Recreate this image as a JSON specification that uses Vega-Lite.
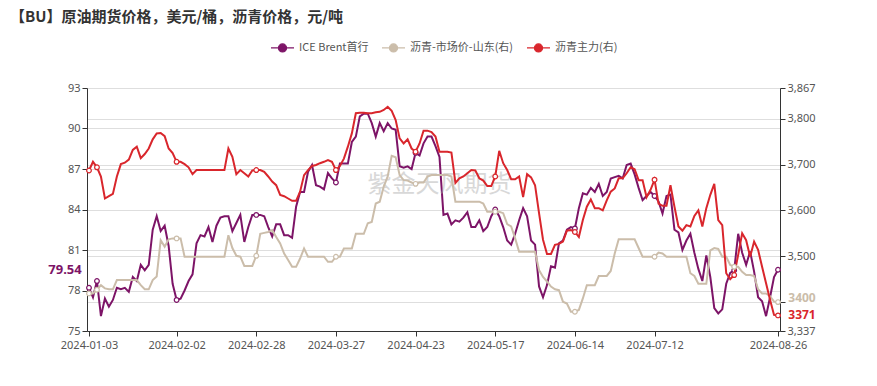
{
"$schema": "https://vega.github.io/schema/vega-lite/v6.json",
"width": 693, "height": 243,
"autosize": {"type": "none"},
"padding": {"left": 87, "top": 88, "right": 97, "bottom": 55},
"background": "white",
"config": {
  "view": {"stroke": null},
  "font": "Noto Sans CJK SC",
  "axis": {"labelColor": "#555", "labelFontSize": 11, "labelFont": "Noto Sans", "domainColor": "#333", "tickColor": "#333", "gridColor": "#dedede", "tickSize": 5, "title": null}
},
"title": {"text": "【BU】原油期货价格，美元/桶，沥青价格，元/吨", "anchor": "start", "frame": "group", "dx": -77, "offset": 10, "fontSize": 15, "fontWeight": "bold", "color": "#333", "font": "Noto Sans CJK SC"},
"data": {"values": [
{"d":"2024-01-03","brent":78.2,"spot":3419,"main":3687},
{"d":"2024-01-04","brent":77.5,"spot":3419,"main":3706},
{"d":"2024-01-05","brent":78.7,"spot":3427,"main":3694},
{"d":"2024-01-08","brent":76.1,"spot":3437,"main":3674},
{"d":"2024-01-09","brent":77.4,"spot":3430,"main":3626},
{"d":"2024-01-10","brent":76.8,"spot":3428,"main":3631},
{"d":"2024-01-11","brent":77.3,"spot":3428,"main":3636},
{"d":"2024-01-12","brent":78.2,"spot":3448,"main":3674},
{"d":"2024-01-15","brent":78.1,"spot":3448,"main":3701},
{"d":"2024-01-16","brent":78.2,"spot":3448,"main":3704},
{"d":"2024-01-17","brent":77.9,"spot":3448,"main":3711},
{"d":"2024-01-18","brent":79.0,"spot":3448,"main":3732},
{"d":"2024-01-19","brent":78.7,"spot":3448,"main":3739},
{"d":"2024-01-22","brent":79.9,"spot":3437,"main":3714},
{"d":"2024-01-23","brent":79.5,"spot":3428,"main":3723},
{"d":"2024-01-24","brent":79.9,"spot":3428,"main":3735},
{"d":"2024-01-25","brent":82.5,"spot":3448,"main":3755},
{"d":"2024-01-26","brent":83.5,"spot":3456,"main":3768},
{"d":"2024-01-29","brent":82.4,"spot":3535,"main":3769},
{"d":"2024-01-30","brent":82.8,"spot":3521,"main":3762},
{"d":"2024-01-31","brent":81.3,"spot":3537,"main":3735},
{"d":"2024-02-01","brent":78.5,"spot":3539,"main":3725},
{"d":"2024-02-02","brent":77.3,"spot":3539,"main":3706},
{"d":"2024-02-04","brent":77.4,"spot":3539,"main":3706},
{"d":"2024-02-05","brent":78.0,"spot":3499,"main":3701},
{"d":"2024-02-06","brent":78.7,"spot":3499,"main":3694},
{"d":"2024-02-07","brent":79.2,"spot":3499,"main":3679},
{"d":"2024-02-08","brent":81.5,"spot":3499,"main":3688},
{"d":"2024-02-09","brent":82.1,"spot":3499,"main":3688},
{"d":"2024-02-12","brent":82.0,"spot":3499,"main":3688},
{"d":"2024-02-13","brent":82.7,"spot":3499,"main":3688},
{"d":"2024-02-14","brent":81.6,"spot":3499,"main":3688},
{"d":"2024-02-15","brent":82.8,"spot":3499,"main":3688},
{"d":"2024-02-16","brent":83.4,"spot":3499,"main":3688},
{"d":"2024-02-18","brent":83.5,"spot":3499,"main":3688},
{"d":"2024-02-19","brent":83.5,"spot":3546,"main":3735},
{"d":"2024-02-20","brent":82.4,"spot":3518,"main":3717},
{"d":"2024-02-21","brent":83.0,"spot":3501,"main":3679},
{"d":"2024-02-22","brent":83.6,"spot":3499,"main":3688},
{"d":"2024-02-23","brent":81.6,"spot":3479,"main":3681},
{"d":"2024-02-26","brent":82.7,"spot":3479,"main":3674},
{"d":"2024-02-27","brent":83.6,"spot":3479,"main":3687},
{"d":"2024-02-28","brent":83.6,"spot":3501,"main":3688},
{"d":"2024-02-29","brent":83.6,"spot":3549,"main":3688},
{"d":"2024-03-01","brent":83.5,"spot":3551,"main":3684},
{"d":"2024-03-04","brent":82.7,"spot":3553,"main":3674},
{"d":"2024-03-05","brent":82.0,"spot":3557,"main":3663},
{"d":"2024-03-06","brent":82.9,"spot":3542,"main":3655},
{"d":"2024-03-07","brent":82.9,"spot":3528,"main":3634},
{"d":"2024-03-08","brent":82.1,"spot":3506,"main":3631},
{"d":"2024-03-11","brent":82.1,"spot":3492,"main":3626},
{"d":"2024-03-12","brent":81.9,"spot":3477,"main":3621},
{"d":"2024-03-13","brent":84.2,"spot":3477,"main":3621},
{"d":"2024-03-14","brent":85.3,"spot":3495,"main":3641},
{"d":"2024-03-15","brent":85.3,"spot":3517,"main":3677},
{"d":"2024-03-18","brent":86.8,"spot":3499,"main":3688},
{"d":"2024-03-19","brent":87.3,"spot":3499,"main":3697},
{"d":"2024-03-20","brent":85.8,"spot":3499,"main":3699},
{"d":"2024-03-21","brent":85.7,"spot":3499,"main":3703},
{"d":"2024-03-22","brent":85.5,"spot":3499,"main":3706},
{"d":"2024-03-25","brent":86.7,"spot":3488,"main":3710},
{"d":"2024-03-26","brent":86.3,"spot":3488,"main":3706},
{"d":"2024-03-27","brent":86.0,"spot":3499,"main":3688},
{"d":"2024-03-28","brent":87.4,"spot":3499,"main":3697},
{"d":"2024-03-29","brent":87.4,"spot":3517,"main":3713},
{"d":"2024-04-01","brent":87.4,"spot":3517,"main":3739},
{"d":"2024-04-02","brent":89.0,"spot":3517,"main":3768},
{"d":"2024-04-03","brent":89.4,"spot":3549,"main":3812},
{"d":"2024-04-04","brent":90.9,"spot":3549,"main":3813},
{"d":"2024-04-05","brent":91.1,"spot":3549,"main":3813},
{"d":"2024-04-07","brent":91.1,"spot":3572,"main":3812},
{"d":"2024-04-08","brent":90.4,"spot":3575,"main":3812},
{"d":"2024-04-09","brent":89.4,"spot":3615,"main":3814},
{"d":"2024-04-10","brent":90.4,"spot":3619,"main":3815},
{"d":"2024-04-11","brent":89.8,"spot":3652,"main":3819},
{"d":"2024-04-12","brent":90.4,"spot":3674,"main":3826},
{"d":"2024-04-15","brent":90.0,"spot":3719,"main":3817},
{"d":"2024-04-16","brent":89.9,"spot":3716,"main":3797},
{"d":"2024-04-17","brent":87.2,"spot":3677,"main":3757},
{"d":"2024-04-18","brent":87.1,"spot":3666,"main":3746},
{"d":"2024-04-19","brent":87.2,"spot":3665,"main":3755},
{"d":"2024-04-22","brent":87.0,"spot":3661,"main":3735},
{"d":"2024-04-23","brent":88.2,"spot":3658,"main":3728},
{"d":"2024-04-24","brent":88.0,"spot":3661,"main":3746},
{"d":"2024-04-25","brent":88.9,"spot":3661,"main":3774},
{"d":"2024-04-26","brent":89.4,"spot":3674,"main":3774},
{"d":"2024-04-28","brent":89.4,"spot":3677,"main":3771},
{"d":"2024-04-29","brent":88.7,"spot":3677,"main":3761},
{"d":"2024-04-30","brent":87.9,"spot":3677,"main":3728},
{"d":"2024-05-01","brent":83.6,"spot":3677,"main":3728},
{"d":"2024-05-02","brent":83.7,"spot":3677,"main":3728},
{"d":"2024-05-03","brent":82.9,"spot":3674,"main":3726},
{"d":"2024-05-06","brent":83.2,"spot":3619,"main":3660},
{"d":"2024-05-07","brent":83.1,"spot":3619,"main":3670},
{"d":"2024-05-08","brent":83.4,"spot":3619,"main":3674},
{"d":"2024-05-09","brent":83.8,"spot":3619,"main":3681},
{"d":"2024-05-10","brent":82.7,"spot":3619,"main":3688},
{"d":"2024-05-11","brent":82.7,"spot":3619,"main":3687},
{"d":"2024-05-13","brent":83.2,"spot":3619,"main":3670},
{"d":"2024-05-14","brent":82.4,"spot":3615,"main":3665},
{"d":"2024-05-15","brent":82.7,"spot":3597,"main":3653},
{"d":"2024-05-16","brent":83.5,"spot":3597,"main":3653},
{"d":"2024-05-17","brent":84.0,"spot":3597,"main":3674},
{"d":"2024-05-20","brent":83.5,"spot":3597,"main":3730},
{"d":"2024-05-21","brent":82.7,"spot":3594,"main":3703},
{"d":"2024-05-22","brent":81.7,"spot":3570,"main":3688},
{"d":"2024-05-23","brent":81.4,"spot":3565,"main":3668},
{"d":"2024-05-24","brent":82.2,"spot":3539,"main":3668},
{"d":"2024-05-27","brent":83.2,"spot":3510,"main":3674},
{"d":"2024-05-28","brent":84.1,"spot":3510,"main":3629},
{"d":"2024-05-29","brent":83.5,"spot":3510,"main":3679},
{"d":"2024-05-30","brent":81.7,"spot":3510,"main":3672},
{"d":"2024-05-31","brent":81.4,"spot":3510,"main":3655},
{"d":"2024-06-03","brent":78.3,"spot":3470,"main":3594},
{"d":"2024-06-04","brent":77.5,"spot":3455,"main":3536},
{"d":"2024-06-05","brent":78.4,"spot":3445,"main":3505},
{"d":"2024-06-06","brent":79.8,"spot":3434,"main":3505},
{"d":"2024-06-07","brent":79.7,"spot":3428,"main":3525},
{"d":"2024-06-10","brent":81.5,"spot":3426,"main":3527},
{"d":"2024-06-11","brent":81.7,"spot":3401,"main":3532},
{"d":"2024-06-12","brent":82.5,"spot":3397,"main":3556},
{"d":"2024-06-13","brent":82.7,"spot":3379,"main":3557},
{"d":"2024-06-14","brent":82.6,"spot":3379,"main":3553},
{"d":"2024-06-17","brent":84.1,"spot":3383,"main":3542},
{"d":"2024-06-18","brent":85.2,"spot":3408,"main":3579},
{"d":"2024-06-19","brent":85.1,"spot":3437,"main":3608},
{"d":"2024-06-20","brent":85.6,"spot":3437,"main":3624},
{"d":"2024-06-21","brent":85.3,"spot":3437,"main":3605},
{"d":"2024-06-24","brent":85.9,"spot":3457,"main":3605},
{"d":"2024-06-25","brent":85.0,"spot":3457,"main":3600},
{"d":"2024-06-26","brent":85.3,"spot":3457,"main":3622},
{"d":"2024-06-27","brent":86.3,"spot":3468,"main":3641},
{"d":"2024-06-28","brent":86.4,"spot":3506,"main":3648},
{"d":"2024-07-01","brent":86.5,"spot":3537,"main":3670},
{"d":"2024-07-02","brent":86.3,"spot":3537,"main":3670},
{"d":"2024-07-03","brent":87.3,"spot":3537,"main":3681},
{"d":"2024-07-04","brent":87.4,"spot":3537,"main":3694},
{"d":"2024-07-05","brent":86.6,"spot":3537,"main":3690},
{"d":"2024-07-08","brent":85.6,"spot":3518,"main":3666},
{"d":"2024-07-09","brent":84.7,"spot":3499,"main":3666},
{"d":"2024-07-10","brent":85.0,"spot":3499,"main":3629},
{"d":"2024-07-11","brent":85.3,"spot":3499,"main":3645},
{"d":"2024-07-12","brent":85.0,"spot":3499,"main":3667},
{"d":"2024-07-15","brent":84.6,"spot":3508,"main":3615},
{"d":"2024-07-16","brent":83.7,"spot":3506,"main":3610},
{"d":"2024-07-17","brent":85.0,"spot":3499,"main":3610},
{"d":"2024-07-18","brent":85.1,"spot":3499,"main":3655},
{"d":"2024-07-19","brent":82.5,"spot":3499,"main":3608},
{"d":"2024-07-22","brent":82.3,"spot":3499,"main":3565},
{"d":"2024-07-23","brent":81.0,"spot":3499,"main":3556},
{"d":"2024-07-24","brent":81.7,"spot":3499,"main":3568},
{"d":"2024-07-25","brent":82.2,"spot":3463,"main":3565},
{"d":"2024-07-26","brent":80.8,"spot":3457,"main":3588},
{"d":"2024-07-29","brent":79.6,"spot":3440,"main":3600},
{"d":"2024-07-30","brent":78.7,"spot":3440,"main":3565},
{"d":"2024-07-31","brent":80.6,"spot":3440,"main":3605},
{"d":"2024-08-01","brent":79.0,"spot":3513,"main":3634},
{"d":"2024-08-02","brent":76.7,"spot":3518,"main":3658},
{"d":"2024-08-05","brent":76.3,"spot":3516,"main":3579},
{"d":"2024-08-06","brent":76.6,"spot":3499,"main":3568},
{"d":"2024-08-07","brent":78.5,"spot":3499,"main":3463},
{"d":"2024-08-08","brent":79.3,"spot":3481,"main":3450},
{"d":"2024-08-09","brent":79.5,"spot":3477,"main":3459},
{"d":"2024-08-12","brent":82.2,"spot":3477,"main":3503},
{"d":"2024-08-13","brent":80.8,"spot":3466,"main":3550},
{"d":"2024-08-14","brent":79.9,"spot":3459,"main":3535},
{"d":"2024-08-15","brent":80.9,"spot":3459,"main":3499},
{"d":"2024-08-16","brent":79.4,"spot":3457,"main":3532},
{"d":"2024-08-19","brent":77.5,"spot":3428,"main":3514},
{"d":"2024-08-20","brent":77.2,"spot":3419,"main":3477},
{"d":"2024-08-21","brent":76.1,"spot":3419,"main":3441},
{"d":"2024-08-22","brent":77.5,"spot":3413,"main":3405},
{"d":"2024-08-23","brent":79.0,"spot":3401,"main":3372},
{"d":"2024-08-26","brent":79.54,"spot":3400,"main":3371}
]},
"encoding": {
  "x": {"field": "d", "type": "ordinal", "scale": {"type": "point", "padding": 0.5},
        "axis": {"values": ["2024-01-03","2024-02-02","2024-02-28","2024-03-27","2024-04-23","2024-05-17","2024-06-14","2024-07-12","2024-08-26"], "labelAngle": 0, "labelAlign": "center", "labelBaseline": "top", "labelPadding": 3, "domainColor": "#333"}}
},
"layer": [
  {
    "transform": [{"fold": ["brent"], "as": ["series", "value"]}],
    "encoding": {
      "y": {"field": "value", "type": "quantitative", "scale": {"domain": [75, 93], "nice": false, "zero": false},
            "axis": {"orient": "left", "values": [75,78,81,84,87,90,93], "grid": true, "domain": true}},
      "color": {"field": "series", "type": "nominal",
                "scale": {"domain": ["brent", "spot", "main"], "range": ["#7D1467", "#CBBDAA", "#D9262C"]},
                "legend": {"orient": "none", "legendX": 183, "legendY": -53, "direction": "horizontal", "title": null,
                           "labelExpr": "datum.label == 'brent' ? 'ICE Brent首行' : datum.label == 'spot' ? '沥青-市场价-山东(右)' : '沥青主力(右)'",
                           "labelFont": "Noto Sans CJK SC", "labelFontSize": 11, "labelColor": "#555",
                           "symbolType": "M-1,0L-0.35,0M0.35,0L1,0M0.35,0A0.35,0.35,0,1,1,-0.35,0A0.35,0.35,0,1,1,0.35,0",
                           "symbolSize": 529, "symbolStrokeWidth": 1.3, "columnPadding": 10, "labelOffset": 4,
                           "symbolFillColor": "white",
                           "encode": {"symbols": {"update": {"fill": {"value": "white"}, "fillOpacity": {"value": 1}}}}}}
    },
    "layer": [
      {"mark": {"type": "line", "strokeWidth": 2}},
      {"transform": [{"filter": "indexof(['2024-01-03','2024-01-05','2024-02-02','2024-02-28','2024-03-27','2024-04-23','2024-05-17','2024-06-14','2024-07-12','2024-08-09','2024-08-26'], datum.d) >= 0"}],
       "mark": {"type": "point", "filled": false, "fill": "white", "fillOpacity": 1, "opacity": 1, "size": 22, "strokeWidth": 1.2}},
      {"transform": [{"filter": "datum.d == '2024-08-26'"}],
       "mark": {"type": "text", "dx": -24, "fontWeight": "bold", "fontSize": 13, "font": "Noto Sans"},
       "encoding": {"x": {"datum": "2024-01-03", "type": "ordinal"}, "text": {"field": "value", "format": ".2f"}}},
      {"transform": [{"filter": "datum.d == '2024-04-30'"}],
       "mark": {"type": "text", "fontSize": 24, "opacity": 0.45},
       "encoding": {"y": {"datum": 85.8}, "text": {"value": "紫金天风期货"}, "color": {"value": "#aaaaaa"}}}
    ]
  },
  {
    "transform": [{"fold": ["spot", "main"], "as": ["series", "value"]}],
    "encoding": {
      "y": {"field": "value", "type": "quantitative", "scale": {"domain": [3337, 3867], "nice": false, "zero": false},
            "axis": {"orient": "right", "values": [3337,3400,3500,3600,3700,3800,3867], "grid": true,
                     "labelExpr": "datum.value == 3400 ? '' : format(datum.value, ',')"}},
      "color": {"field": "series", "type": "nominal"}
    },
    "layer": [
      {"mark": {"type": "line", "strokeWidth": 2}},
      {"transform": [{"filter": "indexof(['2024-01-03','2024-01-05','2024-02-02','2024-02-28','2024-03-27','2024-04-23','2024-05-17','2024-06-14','2024-07-12','2024-08-09','2024-08-26'], datum.d) >= 0"}],
       "mark": {"type": "point", "filled": false, "fill": "white", "fillOpacity": 1, "opacity": 1, "size": 22, "strokeWidth": 1.2}},
      {"transform": [{"filter": "datum.d == '2024-08-26' && datum.series == 'spot'"}],
       "mark": {"type": "text", "dx": 24, "dy": -4, "fontWeight": "bold", "fontSize": 12, "font": "Noto Sans"},
       "encoding": {"text": {"field": "value", "format": "d"}}},
      {"transform": [{"filter": "datum.d == '2024-08-26' && datum.series == 'main'"}],
       "mark": {"type": "text", "dx": 24, "dy": 0, "fontWeight": "bold", "fontSize": 12, "font": "Noto Sans"},
       "encoding": {"text": {"field": "value", "format": "d"}}}
    ]
  }
],
"resolve": {"scale": {"y": "independent"}}
}
